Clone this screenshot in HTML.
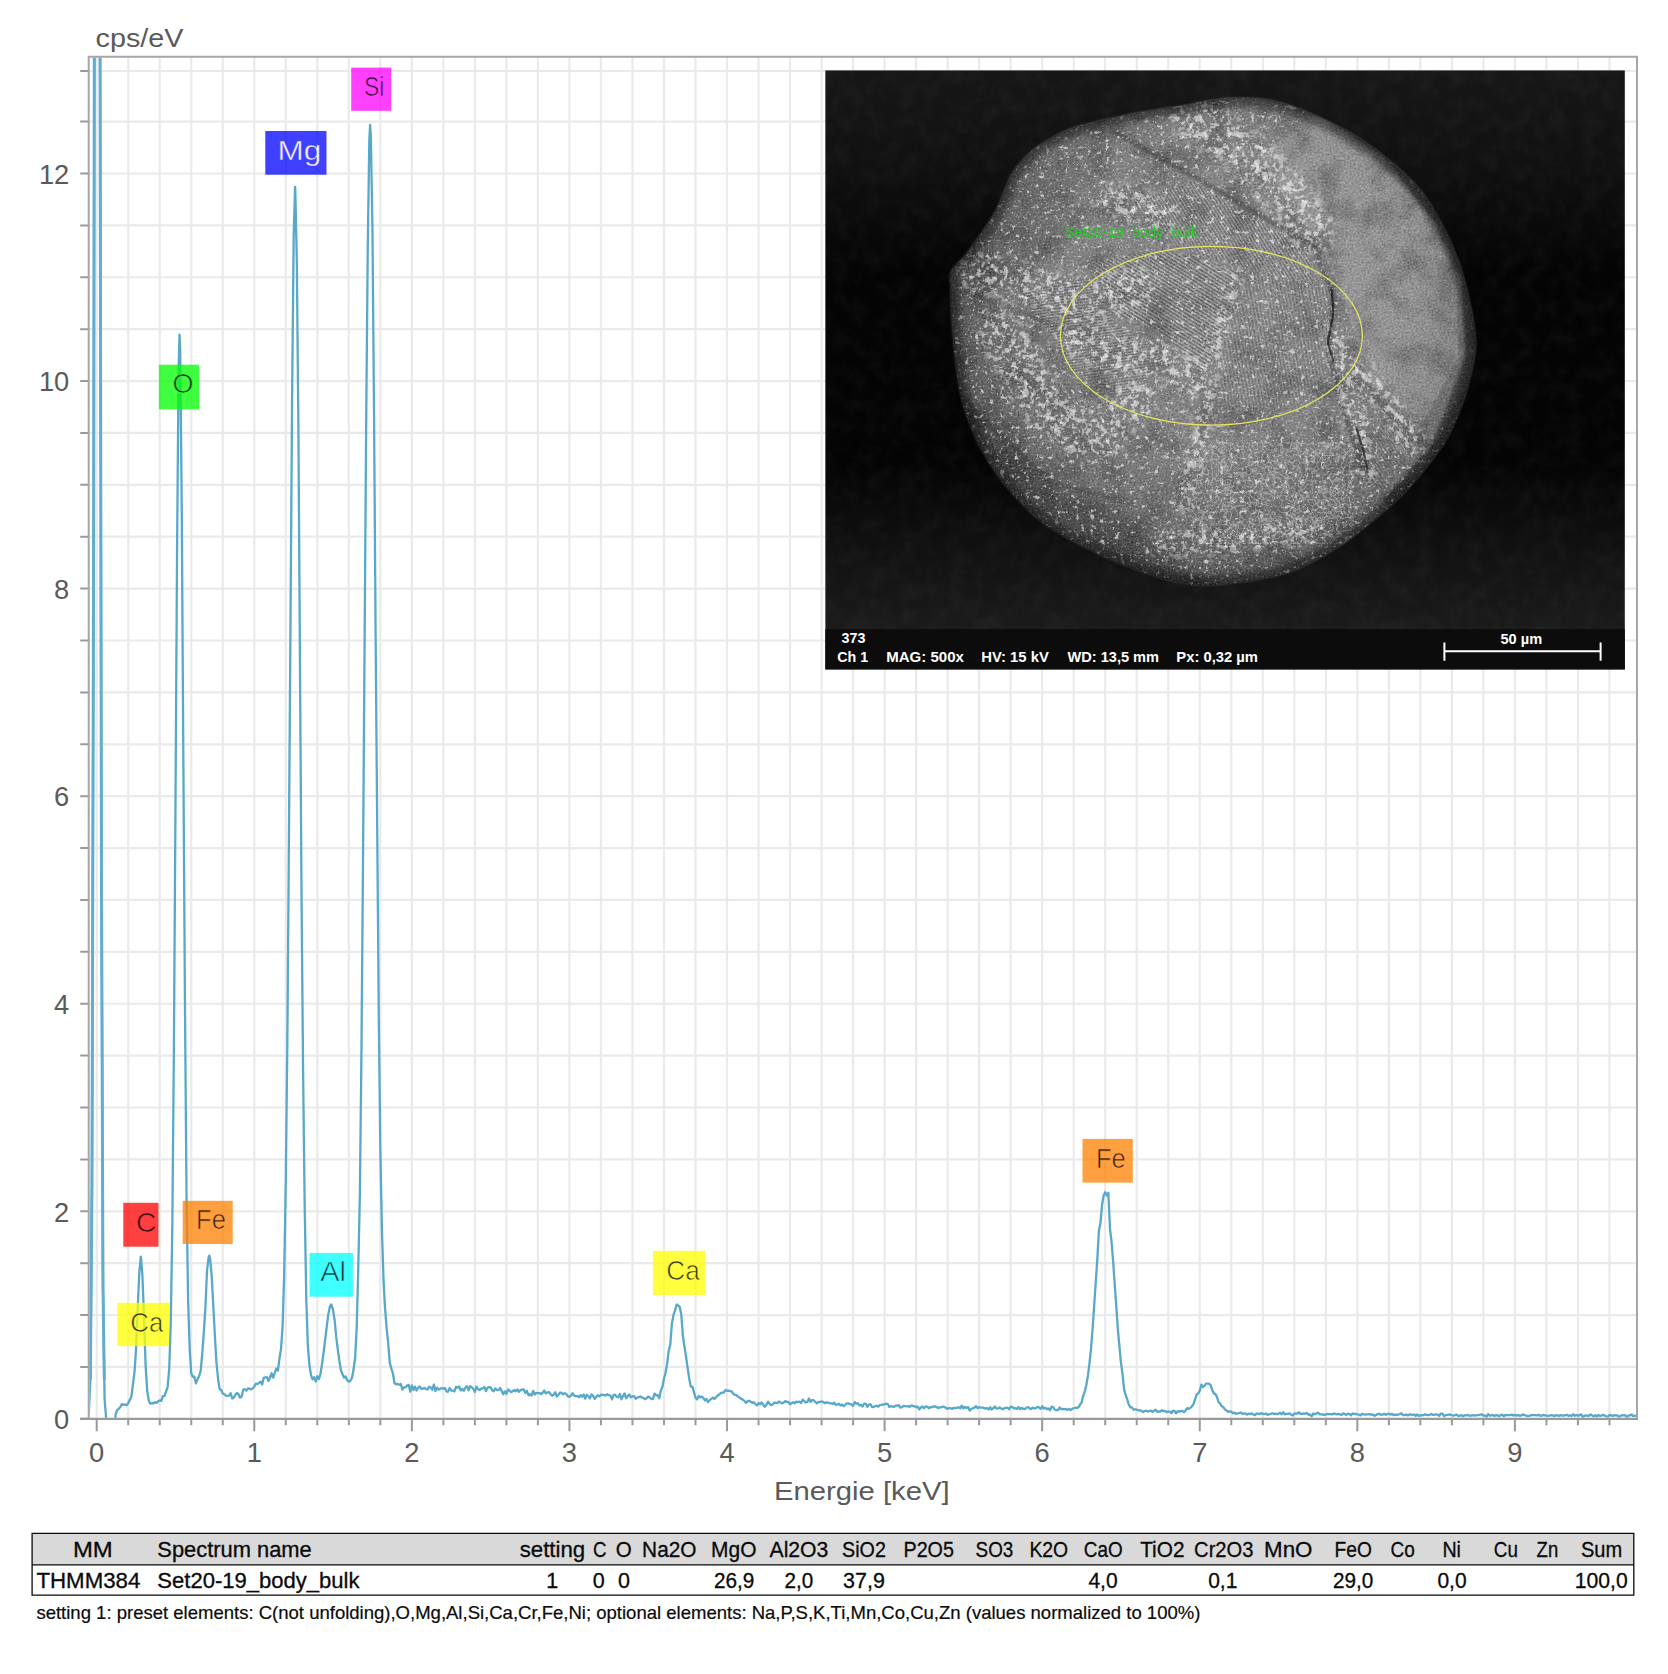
<!DOCTYPE html>
<html lang="de"><head><meta charset="utf-8"><title>EDS Spektrum Set20-19_body_bulk</title>
<style>html,body{margin:0;padding:0;background:#fff;overflow:hidden;}svg{display:block;}text{white-space:pre;}</style></head>
<body><svg width="1668" height="1674" viewBox="0 0 1668 1674" font-family="'Liberation Sans', Arial, sans-serif"><path d="M96.70 56.8V1418.8M128.22 56.8V1418.8M159.73 56.8V1418.8M191.25 56.8V1418.8M222.76 56.8V1418.8M254.28 56.8V1418.8M285.80 56.8V1418.8M317.31 56.8V1418.8M348.83 56.8V1418.8M380.34 56.8V1418.8M411.86 56.8V1418.8M443.38 56.8V1418.8M474.89 56.8V1418.8M506.41 56.8V1418.8M537.92 56.8V1418.8M569.44 56.8V1418.8M600.96 56.8V1418.8M632.47 56.8V1418.8M663.99 56.8V1418.8M695.50 56.8V1418.8M727.02 56.8V1418.8M758.54 56.8V1418.8M790.05 56.8V1418.8M821.57 56.8V1418.8M853.08 56.8V1418.8M884.60 56.8V1418.8M916.12 56.8V1418.8M947.63 56.8V1418.8M979.15 56.8V1418.8M1010.66 56.8V1418.8M1042.18 56.8V1418.8M1073.70 56.8V1418.8M1105.21 56.8V1418.8M1136.73 56.8V1418.8M1168.24 56.8V1418.8M1199.76 56.8V1418.8M1231.28 56.8V1418.8M1262.79 56.8V1418.8M1294.31 56.8V1418.8M1325.82 56.8V1418.8M1357.34 56.8V1418.8M1388.86 56.8V1418.8M1420.37 56.8V1418.8M1451.89 56.8V1418.8M1483.40 56.8V1418.8M1514.92 56.8V1418.8M1546.44 56.8V1418.8M1577.95 56.8V1418.8M1609.47 56.8V1418.8M88.7 1366.96H1637.0M88.7 1315.07H1637.0M88.7 1263.18H1637.0M88.7 1211.29H1637.0M88.7 1159.40H1637.0M88.7 1107.51H1637.0M88.7 1055.62H1637.0M88.7 1003.73H1637.0M88.7 951.84H1637.0M88.7 899.95H1637.0M88.7 848.06H1637.0M88.7 796.17H1637.0M88.7 744.28H1637.0M88.7 692.39H1637.0M88.7 640.50H1637.0M88.7 588.61H1637.0M88.7 536.72H1637.0M88.7 484.83H1637.0M88.7 432.94H1637.0M88.7 381.05H1637.0M88.7 329.16H1637.0M88.7 277.27H1637.0M88.7 225.38H1637.0M88.7 173.49H1637.0M88.7 121.60H1637.0M88.7 71.00H1637.0" stroke="#eaeaea" stroke-width="2.2" fill="none"/>
<path d="M80.2 1418.85H88.7M80.2 1366.96H88.7M80.2 1315.07H88.7M80.2 1263.18H88.7M80.2 1211.29H88.7M80.2 1159.40H88.7M80.2 1107.51H88.7M80.2 1055.62H88.7M80.2 1003.73H88.7M80.2 951.84H88.7M80.2 899.95H88.7M80.2 848.06H88.7M80.2 796.17H88.7M80.2 744.28H88.7M80.2 692.39H88.7M80.2 640.50H88.7M80.2 588.61H88.7M80.2 536.72H88.7M80.2 484.83H88.7M80.2 432.94H88.7M80.2 381.05H88.7M80.2 329.16H88.7M80.2 277.27H88.7M80.2 225.38H88.7M80.2 173.49H88.7M80.2 121.60H88.7M80.2 71.00H88.7M96.70 1418.8v12.5M128.22 1418.8v6.5M159.73 1418.8v6.5M191.25 1418.8v6.5M222.76 1418.8v6.5M254.28 1418.8v12.5M285.80 1418.8v6.5M317.31 1418.8v6.5M348.83 1418.8v6.5M380.34 1418.8v6.5M411.86 1418.8v12.5M443.38 1418.8v6.5M474.89 1418.8v6.5M506.41 1418.8v6.5M537.92 1418.8v6.5M569.44 1418.8v12.5M600.96 1418.8v6.5M632.47 1418.8v6.5M663.99 1418.8v6.5M695.50 1418.8v6.5M727.02 1418.8v12.5M758.54 1418.8v6.5M790.05 1418.8v6.5M821.57 1418.8v6.5M853.08 1418.8v6.5M884.60 1418.8v12.5M916.12 1418.8v6.5M947.63 1418.8v6.5M979.15 1418.8v6.5M1010.66 1418.8v6.5M1042.18 1418.8v12.5M1073.70 1418.8v6.5M1105.21 1418.8v6.5M1136.73 1418.8v6.5M1168.24 1418.8v6.5M1199.76 1418.8v12.5M1231.28 1418.8v6.5M1262.79 1418.8v6.5M1294.31 1418.8v6.5M1325.82 1418.8v6.5M1357.34 1418.8v12.5M1388.86 1418.8v6.5M1420.37 1418.8v6.5M1451.89 1418.8v6.5M1483.40 1418.8v6.5M1514.92 1418.8v12.5M1546.44 1418.8v6.5M1577.95 1418.8v6.5M1609.47 1418.8v6.5" stroke="#9a9a9a" stroke-width="2" fill="none"/>
<path d="M88.7 1418.8V56.8H1637.0V1418.8" stroke="#a6a6a6" stroke-width="2" fill="none"/>
<path d="M80.2 1418.8H1638.0" stroke="#9a9a9a" stroke-width="2.2" fill="none"/>
<clipPath id="pc"><rect x="89.7" y="57.8" width="1547.3" height="1360.0"/></clipPath>
<path d="M87.25 1418.52L88.82 1414.19L90.40 1377.47L91.97 1185.17L93.55 580.40L95.12 -492.74L96.70 -1350.40L98.28 -1130.20L99.85 -72.04L101.43 864.78L103.00 1288.01L104.58 1399.22L106.15 1418.36L107.73 1425.43L109.31 1460.36L110.88 1460.36L112.46 1460.47L114.03 1433.18L115.61 1414.59L117.19 1409.98L118.76 1408.87L120.34 1406.87L121.91 1404.11L123.49 1405.03L125.06 1404.45L126.64 1405.20L128.22 1403.33L129.79 1399.94L131.37 1396.82L132.94 1384.31L134.52 1371.77L134.99 1365.81L136.10 1347.57L137.67 1309.50L139.25 1273.23L140.82 1256.66L140.90 1256.75L142.40 1275.26L143.97 1316.32L145.55 1364.07L147.13 1390.08L148.70 1400.41L150.28 1403.67L151.85 1403.18L153.43 1403.27L155.00 1402.09L156.58 1403.00L158.16 1401.23L159.73 1400.46L161.31 1400.77L162.88 1396.14L164.46 1395.79L166.04 1391.50L167.61 1387.23L169.19 1369.36L170.76 1323.22L172.34 1224.72L173.91 1046.92L175.49 803.68L177.07 549.12L178.64 366.09L179.56 334.56L179.56 334.56L180.22 350.48L181.79 514.28L183.37 761.95L184.94 1001.05L186.52 1196.83L188.10 1299.12L189.67 1349.20L191.25 1373.21L192.82 1376.80L194.40 1376.66L195.98 1383.43L197.55 1379.11L199.13 1376.20L200.70 1370.73L202.28 1353.40L203.85 1331.73L205.43 1307.04L207.01 1271.03L208.58 1257.28L209.29 1255.60L210.16 1259.05L211.73 1276.53L213.31 1306.19L214.89 1335.85L216.46 1362.76L218.04 1378.51L219.61 1389.16L221.19 1389.89L222.76 1393.59L224.34 1394.09L225.92 1395.83L227.49 1395.79L229.07 1395.53L230.64 1393.23L232.22 1398.49L233.79 1397.54L235.37 1394.93L236.95 1393.03L238.52 1394.21L240.10 1397.68L241.67 1396.50L243.25 1389.68L244.83 1389.22L246.40 1390.68L247.98 1388.43L249.55 1388.73L251.13 1389.38L252.70 1388.34L254.28 1386.80L255.86 1383.55L257.43 1384.02L259.01 1382.97L260.58 1381.69L262.16 1384.41L263.73 1377.86L265.31 1377.40L266.89 1377.14L268.46 1381.01L270.04 1377.32L271.61 1373.28L273.19 1377.61L274.77 1372.98L276.34 1368.52L277.92 1370.63L279.49 1358.40L281.07 1348.46L282.64 1325.41L284.22 1273.09L285.80 1180.11L287.37 1038.72L288.95 834.14L290.52 618.54L292.10 396.96L293.68 236.28L295.09 186.98L295.25 187.71L296.83 262.20L298.40 427.65L299.98 665.28L301.55 898.82L303.13 1075.40L304.71 1207.92L306.28 1298.66L307.86 1346.21L309.43 1365.07L311.01 1375.07L312.58 1379.33L314.16 1377.09L315.74 1381.66L317.31 1376.30L318.89 1379.04L320.46 1373.96L322.04 1363.90L323.62 1352.27L325.19 1339.56L326.77 1326.45L328.34 1314.12L329.92 1306.28L331.02 1304.48L331.49 1304.84L333.07 1310.17L334.65 1320.41L336.22 1336.89L337.80 1349.71L339.37 1360.73L340.95 1370.43L342.52 1374.22L344.10 1377.66L345.68 1376.44L347.25 1380.26L348.83 1381.66L350.40 1380.79L351.98 1377.73L353.56 1369.55L355.13 1358.09L356.71 1326.96L358.28 1267.12L359.86 1195.19L361.43 1053.36L363.01 862.01L364.59 644.18L366.16 425.38L367.74 249.49L369.31 139.77L370.13 125.02L370.89 137.34L372.47 230.98L374.04 413.46L375.62 636.08L377.19 824.54L378.77 1016.18L380.34 1149.42L381.92 1230.11L383.50 1279.08L384.60 1300.93L385.07 1308.28L386.65 1328.42L388.22 1343.43L389.80 1363.16L391.37 1368.62L392.95 1373.69L394.53 1383.29L396.10 1384.25L397.68 1383.94L399.25 1384.80L400.83 1383.96L402.41 1389.59L403.98 1387.28L405.56 1387.27L407.13 1385.60L408.71 1384.90L410.28 1391.65L411.86 1385.40L413.44 1389.98L415.01 1386.58L416.59 1390.52L418.16 1387.93L419.74 1386.46L421.31 1388.96L422.89 1388.63L424.47 1387.86L426.04 1389.03L427.62 1389.39L429.19 1386.68L430.77 1387.47L432.35 1389.69L433.92 1384.61L435.50 1391.07L437.07 1387.62L438.65 1389.57L440.22 1388.89L441.80 1387.92L443.38 1388.71L444.95 1388.00L446.53 1391.60L448.10 1391.55L449.68 1387.99L451.26 1390.61L452.83 1390.70L454.41 1391.42L455.98 1386.83L457.56 1387.69L459.13 1386.46L460.71 1390.47L462.29 1388.88L463.86 1390.78L465.44 1387.57L467.01 1386.18L468.59 1390.31L470.16 1386.19L471.74 1387.13L473.32 1389.07L474.89 1392.06L476.47 1386.50L478.04 1389.11L479.62 1390.06L481.20 1388.49L482.77 1388.58L484.35 1386.88L485.92 1391.16L487.50 1387.69L489.07 1387.22L490.65 1387.39L492.23 1390.18L493.80 1391.21L495.38 1388.42L496.95 1390.00L498.53 1390.09L500.10 1388.08L501.68 1390.93L503.26 1394.34L504.83 1391.34L506.41 1393.81L507.98 1389.59L509.56 1390.51L511.14 1392.11L512.71 1391.24L514.29 1389.99L515.86 1391.31L517.44 1389.42L519.01 1391.74L520.59 1390.09L522.17 1389.48L523.74 1389.40L525.32 1393.11L526.89 1390.77L528.47 1395.21L530.05 1394.07L531.62 1395.55L533.20 1390.89L534.77 1394.60L536.35 1392.79L537.92 1393.18L539.50 1393.03L541.08 1394.00L542.65 1392.83L544.23 1390.52L545.80 1393.33L547.38 1392.68L548.95 1392.06L550.53 1394.01L552.11 1395.71L553.68 1394.70L555.26 1392.27L556.83 1396.49L558.41 1394.95L559.99 1392.58L561.56 1392.97L563.14 1394.23L564.71 1393.09L566.29 1394.12L567.86 1396.22L569.44 1396.86L571.02 1395.53L572.59 1393.24L574.17 1395.55L575.74 1396.12L577.32 1395.98L578.89 1397.18L580.47 1395.13L582.05 1396.78L583.62 1394.55L585.20 1398.67L586.77 1394.73L588.35 1396.24L589.93 1398.23L591.50 1394.34L593.08 1395.89L594.65 1398.84L596.23 1396.90L597.80 1395.25L599.38 1396.42L600.96 1394.66L602.53 1394.79L604.11 1394.98L605.68 1395.55L607.26 1394.16L608.84 1395.21L610.41 1395.59L611.99 1399.34L613.56 1395.10L615.14 1394.57L616.71 1396.97L618.29 1397.29L619.87 1393.90L621.44 1399.29L623.02 1396.16L624.59 1393.44L626.17 1398.31L627.74 1396.07L629.32 1394.44L630.90 1397.37L632.47 1396.48L634.05 1396.07L635.62 1398.70L637.20 1397.62L638.78 1397.15L640.35 1396.45L641.93 1397.70L643.50 1397.97L645.08 1399.16L646.65 1398.27L648.23 1396.55L649.81 1397.67L651.38 1398.98L652.96 1398.87L654.53 1393.66L656.11 1395.30L657.68 1395.04L659.26 1398.24L660.84 1390.63L662.41 1386.68L663.99 1378.46L665.56 1372.77L667.14 1363.80L668.72 1350.63L670.29 1344.60L671.87 1323.86L673.44 1315.10L675.02 1310.60L676.59 1304.68L677.07 1304.48L678.17 1305.67L679.75 1306.95L681.32 1314.87L682.90 1336.04L684.47 1346.54L686.05 1356.56L687.63 1368.03L689.20 1378.50L690.78 1386.65L692.35 1386.68L693.93 1392.15L695.50 1397.80L697.08 1399.37L698.66 1395.94L700.23 1397.40L701.81 1396.52L703.38 1398.07L704.96 1400.45L706.53 1398.94L708.11 1402.17L709.69 1400.13L711.26 1398.95L712.84 1397.75L714.41 1398.93L715.99 1397.35L717.57 1395.61L719.14 1394.67L720.72 1393.15L722.29 1392.69L723.87 1392.53L725.44 1389.98L727.02 1390.79L728.60 1390.70L728.60 1390.70L730.17 1391.00L731.75 1391.61L733.32 1393.97L734.90 1394.84L736.47 1395.21L738.05 1396.70L739.63 1397.58L741.20 1398.92L742.78 1399.64L744.35 1400.83L745.93 1402.88L747.51 1401.20L749.08 1400.77L750.66 1401.82L752.23 1402.81L753.81 1402.20L755.38 1404.07L756.96 1405.32L758.54 1403.07L760.11 1404.37L761.69 1402.47L763.26 1404.77L764.84 1406.72L766.42 1404.81L767.99 1401.64L769.57 1403.95L771.14 1405.10L772.72 1404.34L774.29 1402.77L775.87 1402.76L777.45 1403.11L779.02 1401.50L780.60 1402.40L782.17 1403.24L783.75 1402.46L785.32 1401.15L786.90 1401.94L788.48 1401.84L790.05 1404.36L791.63 1403.19L793.20 1402.09L794.78 1403.31L796.36 1401.61L797.93 1402.15L799.51 1401.73L801.08 1403.07L802.66 1399.65L804.23 1401.02L805.81 1402.55L807.39 1401.89L808.96 1398.45L810.54 1401.90L812.11 1400.10L813.69 1400.23L815.26 1401.72L816.84 1403.45L818.42 1402.00L819.99 1402.04L821.57 1401.35L823.14 1402.03L824.72 1403.21L826.30 1402.30L827.87 1402.73L829.45 1403.18L831.02 1403.42L832.60 1403.83L834.17 1402.77L835.75 1404.90L837.33 1404.44L838.90 1403.74L840.48 1405.53L842.05 1404.37L843.63 1406.28L845.21 1404.76L846.78 1403.34L848.36 1403.39L849.93 1404.17L851.51 1404.44L853.08 1405.87L854.66 1402.13L856.24 1403.72L857.81 1403.10L859.39 1405.45L860.96 1404.69L862.54 1406.63L864.11 1403.68L865.69 1403.56L867.27 1406.87L868.84 1404.80L870.42 1404.07L871.99 1406.86L873.57 1406.98L875.15 1406.16L876.72 1405.72L878.30 1406.65L879.87 1405.07L881.45 1404.88L883.02 1404.49L884.60 1404.47L886.18 1403.63L887.75 1404.06L889.33 1406.89L890.90 1406.04L892.48 1406.71L894.05 1406.78L895.63 1405.72L897.21 1405.67L898.78 1405.19L900.36 1407.54L901.93 1407.21L903.51 1405.92L905.09 1406.17L906.66 1406.35L908.24 1406.14L909.81 1406.95L911.39 1405.42L912.96 1405.85L914.54 1406.39L916.12 1407.07L917.69 1406.59L919.27 1409.39L920.84 1407.57L922.42 1406.53L924.00 1408.23L925.57 1406.47L927.15 1406.58L928.72 1408.26L930.30 1407.11L931.87 1407.24L933.45 1406.48L935.03 1406.37L936.60 1407.11L938.18 1408.02L939.75 1407.34L941.33 1407.31L942.90 1406.53L944.48 1407.05L946.06 1408.16L947.63 1408.86L949.21 1407.90L950.78 1408.34L952.36 1408.77L953.94 1407.81L955.51 1408.24L957.09 1407.69L958.66 1407.33L960.24 1408.33L961.81 1405.63L963.39 1408.35L964.97 1406.98L966.54 1408.01L968.12 1407.08L969.69 1410.61L971.27 1409.05L972.84 1408.12L974.42 1407.82L976.00 1406.17L977.57 1408.15L979.15 1407.21L980.72 1407.72L982.30 1407.54L983.88 1407.97L985.45 1408.63L987.03 1407.97L988.60 1409.53L990.18 1407.31L991.75 1409.47L993.33 1408.23L994.91 1406.38L996.48 1408.69L998.06 1408.45L999.63 1407.33L1001.21 1408.45L1002.79 1409.27L1004.36 1408.22L1005.94 1407.90L1007.51 1407.77L1009.09 1409.23L1010.66 1406.75L1012.24 1406.83L1013.82 1408.45L1015.39 1408.21L1016.97 1408.89L1018.54 1407.08L1020.12 1409.17L1021.69 1407.81L1023.27 1408.94L1024.85 1409.16L1026.42 1407.76L1028.00 1407.16L1029.57 1408.48L1031.15 1409.14L1032.73 1407.67L1034.30 1408.52L1035.88 1408.17L1037.45 1406.97L1039.03 1407.36L1040.60 1408.98L1042.18 1406.22L1043.76 1408.47L1045.33 1407.70L1046.91 1409.11L1048.48 1408.52L1050.06 1410.19L1051.63 1406.71L1053.21 1407.16L1054.79 1409.74L1056.36 1410.06L1057.94 1410.22L1059.51 1407.53L1061.09 1409.16L1062.67 1408.82L1064.24 1409.10L1065.82 1408.95L1067.39 1409.91L1068.97 1408.84L1070.54 1410.23L1072.12 1408.82L1073.70 1408.26L1075.27 1407.74L1076.85 1407.81L1078.42 1407.48L1080.00 1404.62L1081.58 1402.78L1083.15 1396.12L1084.73 1391.53L1086.30 1385.28L1087.88 1375.88L1089.45 1363.59L1091.03 1348.52L1092.61 1328.42L1094.18 1305.41L1095.76 1281.99L1097.33 1258.75L1098.91 1230.55L1100.48 1223.06L1102.06 1205.00L1103.64 1195.54L1105.21 1192.30L1105.21 1192.30L1106.79 1195.63L1108.36 1192.75L1109.94 1228.32L1111.52 1241.63L1113.09 1260.72L1114.67 1283.79L1116.24 1305.64L1117.82 1328.77L1119.39 1345.90L1120.97 1362.70L1122.55 1374.32L1124.12 1389.41L1125.70 1395.19L1127.27 1399.49L1128.85 1404.70L1130.42 1407.31L1132.00 1407.33L1133.58 1409.73L1135.15 1409.25L1136.73 1409.61L1138.30 1410.28L1139.88 1410.28L1141.46 1410.92L1143.03 1412.12L1144.61 1411.00L1146.18 1410.64L1147.76 1411.52L1149.33 1411.20L1150.91 1410.53L1152.49 1411.95L1154.06 1410.71L1155.64 1409.73L1157.21 1411.80L1158.79 1411.26L1160.37 1411.55L1161.94 1410.19L1163.52 1411.25L1165.09 1410.82L1166.67 1412.17L1168.24 1411.65L1169.82 1411.69L1171.40 1413.17L1172.97 1410.58L1174.55 1411.04L1176.12 1413.20L1177.70 1411.14L1179.27 1411.78L1180.85 1411.16L1182.43 1410.98L1184.00 1412.19L1185.58 1410.49L1187.15 1408.07L1188.73 1408.89L1190.31 1407.90L1191.88 1406.47L1193.46 1404.14L1195.03 1399.56L1196.61 1394.69L1198.18 1393.42L1199.76 1390.70L1201.34 1384.60L1202.91 1387.01L1204.49 1385.69L1206.06 1383.65L1206.85 1383.56L1207.64 1383.70L1209.21 1383.67L1210.79 1385.36L1212.37 1390.38L1213.94 1393.36L1215.52 1394.12L1217.09 1397.33L1218.67 1402.36L1220.25 1403.62L1221.82 1406.35L1223.40 1407.26L1224.97 1409.44L1226.55 1410.64L1228.12 1411.78L1229.70 1411.33L1231.28 1411.59L1232.85 1413.25L1234.43 1412.60L1236.00 1413.91L1237.58 1413.42L1239.16 1413.00L1240.73 1412.49L1242.31 1413.85L1243.88 1413.65L1245.46 1413.48L1247.03 1414.67L1248.61 1413.63L1250.19 1414.12L1251.76 1413.40L1253.34 1414.46L1254.91 1415.06L1256.49 1413.67L1258.06 1413.53L1259.64 1414.10L1261.22 1413.12L1262.79 1413.93L1264.37 1414.17L1265.94 1413.44L1267.52 1414.86L1269.10 1414.25L1270.67 1413.81L1272.25 1413.23L1273.82 1413.93L1275.40 1413.62L1276.97 1414.29L1278.55 1413.65L1280.13 1412.73L1281.70 1414.35L1283.28 1412.28L1284.85 1414.34L1286.43 1413.90L1288.00 1413.81L1289.58 1413.24L1291.16 1414.78L1292.73 1415.38L1294.31 1413.56L1295.88 1413.44L1297.46 1413.57L1299.04 1412.23L1300.61 1413.88L1302.19 1413.86L1303.76 1413.41L1305.34 1413.80L1306.91 1412.95L1308.49 1414.90L1310.07 1414.33L1311.64 1416.39L1313.22 1413.56L1314.79 1414.36L1316.37 1413.51L1317.95 1412.71L1319.52 1414.15L1321.10 1414.33L1322.67 1414.50L1324.25 1414.74L1325.82 1414.61L1327.40 1413.79L1328.98 1414.19L1330.55 1414.19L1332.13 1414.35L1333.70 1413.65L1335.28 1413.94L1336.85 1414.37L1338.43 1413.85L1340.01 1414.40L1341.58 1415.06L1343.16 1413.37L1344.73 1414.03L1346.31 1414.96L1347.89 1413.66L1349.46 1414.14L1351.04 1415.39L1352.61 1413.35L1354.19 1414.18L1355.76 1413.84L1357.34 1414.30L1358.92 1414.53L1360.49 1415.44L1362.07 1413.83L1363.64 1414.45L1365.22 1414.66L1366.79 1414.27L1368.37 1414.45L1369.95 1414.08L1371.52 1414.76L1373.10 1414.56L1374.67 1415.90L1376.25 1414.83L1377.83 1414.14L1379.40 1413.74L1380.98 1414.82L1382.55 1414.68L1384.13 1413.62L1385.70 1414.83L1387.28 1414.18L1388.86 1413.60L1390.43 1414.64L1392.01 1413.90L1393.58 1415.13L1395.16 1414.56L1396.74 1414.75L1398.31 1414.65L1399.89 1414.03L1401.46 1413.26L1403.04 1415.16L1404.61 1415.12L1406.19 1414.47L1407.77 1415.43L1409.34 1414.49L1410.92 1414.46L1412.49 1414.99L1414.07 1414.50L1415.64 1415.79L1417.22 1414.39L1418.80 1415.81L1420.37 1415.30L1421.95 1415.23L1423.52 1415.14L1425.10 1414.39L1426.68 1414.87L1428.25 1415.17L1429.83 1414.62L1431.40 1414.00L1432.98 1414.96L1434.55 1414.76L1436.13 1414.24L1437.71 1414.84L1439.28 1415.78L1440.86 1413.53L1442.43 1413.72L1444.01 1416.23L1445.58 1415.08L1447.16 1414.82L1448.74 1414.51L1450.31 1414.69L1451.89 1415.26L1453.46 1415.74L1455.04 1415.06L1456.62 1414.53L1458.19 1415.79L1459.77 1415.76L1461.34 1415.18L1462.92 1416.32L1464.49 1415.34L1466.07 1415.46L1467.65 1414.95L1469.22 1415.63L1470.80 1415.74L1472.37 1415.46L1473.95 1415.26L1475.53 1415.63L1477.10 1415.24L1478.68 1414.81L1480.25 1414.57L1481.83 1414.27L1483.40 1415.72L1484.98 1415.51L1486.56 1416.71L1488.13 1414.18L1489.71 1415.70L1491.28 1415.31L1492.86 1414.99L1494.43 1416.08L1496.01 1415.04L1497.59 1415.32L1499.16 1416.36L1500.74 1415.15L1502.31 1414.64L1503.89 1416.40L1505.47 1414.87L1507.04 1415.22L1508.62 1415.07L1510.19 1415.09L1511.77 1414.60L1513.34 1415.48L1514.92 1414.86L1516.50 1415.60L1518.07 1414.95L1519.65 1415.84L1521.22 1415.44L1522.80 1414.40L1524.37 1415.13L1525.95 1415.48L1527.53 1416.05L1529.10 1415.85L1530.68 1415.30L1532.25 1414.88L1533.83 1415.18L1535.41 1415.12L1536.98 1415.45L1538.56 1414.67L1540.13 1415.66L1541.71 1415.75L1543.28 1414.94L1544.86 1415.41L1546.44 1415.61L1548.01 1415.78L1549.59 1415.61L1551.16 1415.12L1552.74 1415.27L1554.32 1416.16L1555.89 1415.24L1557.47 1415.39L1559.04 1416.05L1560.62 1415.06L1562.19 1415.66L1563.77 1415.69L1565.35 1415.07L1566.92 1414.78L1568.50 1415.90L1570.07 1415.28L1571.65 1416.02L1573.22 1414.25L1574.80 1415.81L1576.38 1414.88L1577.95 1415.91L1579.53 1415.10L1581.10 1414.33L1582.68 1416.97L1584.26 1415.81L1585.83 1415.30L1587.41 1415.63L1588.98 1415.95L1590.56 1414.40L1592.13 1415.55L1593.71 1416.50L1595.29 1415.13L1596.86 1416.55L1598.44 1414.98L1600.01 1415.93L1601.59 1415.54L1603.16 1414.93L1604.74 1415.57L1606.32 1416.40L1607.89 1416.57L1609.47 1415.00L1611.04 1415.24L1612.62 1416.10L1614.20 1415.19L1615.77 1415.39L1617.35 1415.32L1618.92 1416.90L1620.50 1415.84L1622.07 1415.19L1623.65 1415.29L1625.23 1415.21L1626.80 1417.03L1628.38 1415.61L1629.95 1415.44L1631.53 1414.33L1633.11 1416.23L1634.68 1415.90L1636.26 1415.71" clip-path="url(#pc)" stroke="#58a8ca" stroke-width="2.3" fill="none" stroke-linejoin="round"/>
<clipPath id="pz"><rect x="89.7" y="57.8" width="30" height="1322"/></clipPath>
<path d="M87.25 1418.52L88.82 1414.19L90.40 1377.47L91.97 1185.17L93.55 580.40L95.12 -492.74L96.70 -1350.40L98.28 -1130.20L99.85 -72.04L101.43 864.78L103.00 1288.01L104.58 1399.22L106.15 1418.36L107.73 1425.43" clip-path="url(#pz)" stroke="#62adcf" stroke-width="3.0" fill="none" stroke-linejoin="round"/>
<text x="69.3" y="1429.0" font-size="27.3" text-anchor="end" fill="#5a5a5a">0</text>
<text x="69.3" y="1221.5" font-size="27.3" text-anchor="end" fill="#5a5a5a">2</text>
<text x="69.3" y="1013.9" font-size="27.3" text-anchor="end" fill="#5a5a5a">4</text>
<text x="69.3" y="806.4" font-size="27.3" text-anchor="end" fill="#5a5a5a">6</text>
<text x="69.3" y="598.8" font-size="27.3" text-anchor="end" fill="#5a5a5a">8</text>
<text x="69.3" y="391.2" font-size="27.3" text-anchor="end" fill="#5a5a5a">10</text>
<text x="69.3" y="183.7" font-size="27.3" text-anchor="end" fill="#5a5a5a">12</text>
<text x="96.7" y="1461.5" font-size="27.3" text-anchor="middle" fill="#5a5a5a">0</text>
<text x="254.3" y="1461.5" font-size="27.3" text-anchor="middle" fill="#5a5a5a">1</text>
<text x="411.9" y="1461.5" font-size="27.3" text-anchor="middle" fill="#5a5a5a">2</text>
<text x="569.4" y="1461.5" font-size="27.3" text-anchor="middle" fill="#5a5a5a">3</text>
<text x="727.0" y="1461.5" font-size="27.3" text-anchor="middle" fill="#5a5a5a">4</text>
<text x="884.6" y="1461.5" font-size="27.3" text-anchor="middle" fill="#5a5a5a">5</text>
<text x="1042.2" y="1461.5" font-size="27.3" text-anchor="middle" fill="#5a5a5a">6</text>
<text x="1199.8" y="1461.5" font-size="27.3" text-anchor="middle" fill="#5a5a5a">7</text>
<text x="1357.3" y="1461.5" font-size="27.3" text-anchor="middle" fill="#5a5a5a">8</text>
<text x="1514.9" y="1461.5" font-size="27.3" text-anchor="middle" fill="#5a5a5a">9</text>
<text x="95.5" y="47.3" font-size="26" text-anchor="start" fill="#5a5a5a" textLength="88.0" lengthAdjust="spacingAndGlyphs">cps/eV</text>
<text x="774.0" y="1499.8" font-size="26" text-anchor="start" fill="#5a5a5a" textLength="175.6" lengthAdjust="spacingAndGlyphs">Energie [keV]</text>
<rect x="351.2" y="67.6" width="40.0" height="43.2" fill="#ff00ff" fill-opacity="0.75"/>
<text x="364.0" y="95.5" font-size="27.8" fill="#000" fill-opacity="0.8" stroke="#ff3fff" stroke-width="0.65" textLength="20.3" lengthAdjust="spacingAndGlyphs">Si</text>
<rect x="265.3" y="131.0" width="61.2" height="43.7" fill="#0000ff" fill-opacity="0.75"/>
<text x="277.5" y="159.8" font-size="27.8" fill="#fff" fill-opacity="0.95" stroke="#3f3fff" stroke-width="0.4" textLength="43.8" lengthAdjust="spacingAndGlyphs">Mg</text>
<rect x="158.9" y="364.7" width="40.2" height="44.6" fill="#00ff00" fill-opacity="0.75"/>
<text x="172.5" y="393.2" font-size="27.8" fill="#000" fill-opacity="0.8" stroke="#3fff3f" stroke-width="0.65" textLength="21.0" lengthAdjust="spacingAndGlyphs">O</text>
<rect x="123.3" y="1202.8" width="35.2" height="43.9" fill="#ff0000" fill-opacity="0.75"/>
<text x="136.0" y="1231.7" font-size="27.8" fill="#000" fill-opacity="0.8" stroke="#ff3f3f" stroke-width="0.65" textLength="20.4" lengthAdjust="spacingAndGlyphs">C</text>
<rect x="182.7" y="1200.8" width="50.0" height="43.2" fill="#ff8000" fill-opacity="0.75"/>
<text x="196.1" y="1229.4" font-size="27.8" fill="#000" fill-opacity="0.8" stroke="#ff9f3f" stroke-width="0.65" textLength="29.8" lengthAdjust="spacingAndGlyphs">Fe</text>
<rect x="117.4" y="1302.8" width="51.7" height="43.4" fill="#ffff00" fill-opacity="0.75"/>
<text x="130.3" y="1331.9" font-size="27.8" fill="#000" fill-opacity="0.8" stroke="#ffff3f" stroke-width="0.65" textLength="33.0" lengthAdjust="spacingAndGlyphs">Ca</text>
<rect x="309.5" y="1252.9" width="43.4" height="43.8" fill="#00ffff" fill-opacity="0.75"/>
<text x="320.2" y="1281.4" font-size="27.8" fill="#000" fill-opacity="0.8" stroke="#3fffff" stroke-width="0.65" textLength="25.7" lengthAdjust="spacingAndGlyphs">Al</text>
<rect x="652.9" y="1250.8" width="52.4" height="44.1" fill="#ffff00" fill-opacity="0.75"/>
<text x="666.3" y="1279.9" font-size="27.8" fill="#000" fill-opacity="0.8" stroke="#ffff3f" stroke-width="0.65" textLength="33.5" lengthAdjust="spacingAndGlyphs">Ca</text>
<rect x="1082.5" y="1138.9" width="50.3" height="43.7" fill="#ff8000" fill-opacity="0.75"/>
<text x="1095.9" y="1167.7" font-size="27.8" fill="#000" fill-opacity="0.8" stroke="#ff9f3f" stroke-width="0.65" textLength="29.8" lengthAdjust="spacingAndGlyphs">Fe</text>
<defs>
<clipPath id="imgc"><rect x="825.2" y="70.2" width="799.7" height="599.4"/></clipPath>
<clipPath id="sphc"><path d="M950.7 286.8C950.8 279.9 949.1 276.0 951.6 270.6C954.1 265.2 960.6 261.4 966.0 254.5C971.4 247.6 978.9 236.8 984.0 229.3C989.1 221.8 992.9 216.4 996.5 209.5C1000.1 202.6 1002.5 194.5 1005.5 187.9C1008.5 181.3 1010.3 175.9 1014.5 169.9C1018.7 163.9 1024.4 157.3 1030.7 151.9C1037.0 146.5 1045.1 141.6 1052.3 137.6C1059.5 133.6 1064.3 130.8 1073.9 127.7C1083.5 124.6 1097.9 121.4 1109.9 118.7C1121.9 116.0 1133.8 113.6 1145.8 111.5C1157.8 109.4 1171.3 107.9 1181.8 106.1C1192.3 104.3 1199.8 102.0 1208.8 100.7C1217.8 99.4 1225.5 98.0 1236.0 98.0C1246.5 98.0 1260.0 98.3 1272.0 100.7C1284.0 103.1 1296.0 107.6 1308.0 112.4C1320.0 117.2 1333.4 123.8 1343.9 129.5C1354.4 135.2 1361.9 140.1 1370.9 146.5C1379.9 152.9 1389.4 160.6 1397.8 168.1C1406.2 175.6 1414.3 182.8 1421.2 191.5C1428.1 200.2 1434.1 211.3 1439.2 220.3C1444.3 229.3 1448.2 237.4 1451.8 245.5C1455.4 253.6 1458.1 260.4 1460.8 268.8C1463.5 277.2 1465.9 286.8 1468.0 295.8C1470.1 304.8 1472.2 313.8 1473.4 322.8C1474.6 331.8 1476.1 339.4 1475.2 349.8C1474.3 360.2 1470.7 374.6 1468.0 385.0C1465.3 395.4 1462.6 402.9 1459.0 411.9C1455.4 420.9 1451.2 430.5 1446.4 438.9C1441.6 447.3 1435.9 454.8 1430.2 462.3C1424.5 469.8 1418.8 476.7 1412.2 483.9C1405.6 491.1 1398.1 498.6 1390.6 505.5C1383.1 512.4 1375.1 519.0 1367.3 525.3C1359.5 531.6 1352.3 537.5 1343.9 543.2C1335.5 548.9 1325.9 554.6 1316.9 559.4C1307.9 564.2 1299.5 568.7 1289.9 572.0C1280.3 575.3 1269.9 577.2 1259.4 579.2C1248.9 581.2 1236.9 582.7 1227.0 583.7C1217.1 584.8 1208.8 586.0 1199.8 585.5C1190.8 585.0 1181.8 583.1 1172.8 581.0C1163.8 578.9 1154.8 575.9 1145.8 572.9C1136.8 569.9 1127.8 566.8 1118.8 563.0C1109.8 559.2 1100.6 554.6 1091.9 550.4C1083.2 546.2 1075.1 542.6 1066.7 537.8C1058.3 533.0 1048.7 527.1 1041.5 521.7C1034.3 516.3 1029.5 511.5 1023.5 505.5C1017.5 499.5 1010.9 492.3 1005.5 485.7C1000.1 479.1 995.7 472.8 991.2 465.9C986.7 459.0 982.5 452.1 978.6 444.3C974.7 436.5 970.8 427.5 967.8 419.1C964.8 410.7 962.5 402.7 960.6 394.0C958.7 385.3 957.3 376.0 956.1 367.0C954.9 358.0 954.2 349.2 953.4 340.0C952.6 330.8 951.7 320.9 951.2 312.0C950.8 303.1 950.6 293.7 950.7 286.8Z"/></clipPath>
<linearGradient id="bgg" gradientUnits="userSpaceOnUse" x1="0" y1="70" x2="0" y2="630"><stop offset="0" stop-color="#171717"/><stop offset="0.18" stop-color="#101010"/><stop offset="0.36" stop-color="#040404"/><stop offset="0.7" stop-color="#040404"/><stop offset="0.83" stop-color="#0f0f0f"/><stop offset="1" stop-color="#1b1b1b"/></linearGradient>
<radialGradient id="sphg" gradientUnits="userSpaceOnUse" cx="1225" cy="310" r="285" fx="1250" fy="270"><stop offset="0" stop-color="#888888"/><stop offset="0.6" stop-color="#7e7e7e"/><stop offset="0.84" stop-color="#6a6a6a"/><stop offset="0.95" stop-color="#505050"/><stop offset="1" stop-color="#3a3a3a"/></radialGradient>
<linearGradient id="flr" gradientUnits="userSpaceOnUse" x1="0" y1="500" x2="0" y2="630"><stop offset="0" stop-color="#191919" stop-opacity="0"/><stop offset="1" stop-color="#191919" stop-opacity="0.95"/></linearGradient>
<pattern id="st1" patternUnits="userSpaceOnUse" width="3.2" height="3.2" patternTransform="rotate(32)"><rect width="3.2" height="1.3" fill="#fff"/><rect y="1.9" width="3.2" height="0.9" fill="#000"/></pattern>
<pattern id="st2" patternUnits="userSpaceOnUse" width="3" height="3" patternTransform="rotate(58)"><rect width="3" height="1.2" fill="#fff"/><rect y="1.8" width="3" height="0.9" fill="#000"/></pattern>
<pattern id="st3" patternUnits="userSpaceOnUse" width="2.8" height="2.8" patternTransform="rotate(-8)"><rect width="2.8" height="1.1" fill="#fff"/><rect y="1.6" width="2.8" height="0.9" fill="#000"/></pattern>
<pattern id="st4" patternUnits="userSpaceOnUse" width="3.4" height="3.4" patternTransform="rotate(80)"><rect width="3.4" height="1.3" fill="#fff"/><rect y="2" width="3.4" height="0.9" fill="#000"/></pattern>
<filter id="spk" x="0" y="0" width="100%" height="100%" color-interpolation-filters="sRGB"><feTurbulence type="fractalNoise" baseFrequency="0.2 0.2" numOctaves="3" seed="11"/><feColorMatrix type="matrix" values="0 0 0 0 1  0 0 0 0 1  0 0 0 0 1  7 0 0 0 -4.45"/></filter>
<filter id="spk2" x="0" y="0" width="100%" height="100%" color-interpolation-filters="sRGB"><feTurbulence type="fractalNoise" baseFrequency="0.33 0.33" numOctaves="2" seed="23"/><feColorMatrix type="matrix" values="0 0 0 0 1  0 0 0 0 1  0 0 0 0 1  0 8 0 0 -5.45"/></filter>
<filter id="mot" x="0" y="0" width="100%" height="100%" color-interpolation-filters="sRGB"><feTurbulence type="fractalNoise" baseFrequency="0.035 0.035" numOctaves="3" seed="5"/><feColorMatrix type="matrix" values="0 0 0 0 0  0 0 0 0 0  0 0 0 0 0  0 0 -2.2 0 1.25"/></filter>
<filter id="wrm" x="0" y="0" width="100%" height="100%" color-interpolation-filters="sRGB"><feTurbulence type="turbulence" baseFrequency="0.16 0.16" numOctaves="1" seed="8"/><feColorMatrix type="matrix" values="0 0 0 0 1  0 0 0 0 1  0 0 0 0 1  -9 0 0 0 1.1"/></filter>
<filter id="grn" x="0" y="0" width="100%" height="100%" color-interpolation-filters="sRGB"><feTurbulence type="fractalNoise" baseFrequency="0.5 0.5" numOctaves="2" seed="2"/><feColorMatrix type="matrix" values="1.6 0 0 0 -0.3  1.6 0 0 0 -0.3  1.6 0 0 0 -0.3  0 0 0 0 0.2"/></filter>
<filter id="bgn" x="0" y="0" width="100%" height="100%" color-interpolation-filters="sRGB"><feTurbulence type="fractalNoise" baseFrequency="0.06 0.06" numOctaves="3" seed="9"/><feColorMatrix type="matrix" values="0 0 0 0 1  0 0 0 0 1  0 0 0 0 1  0.07 0 0 0 -0.028"/></filter>
<filter id="bl6" x="-20%" y="-20%" width="140%" height="140%"><feGaussianBlur stdDeviation="6"/></filter>
<filter id="bl3" x="-20%" y="-20%" width="140%" height="140%"><feGaussianBlur stdDeviation="3"/></filter>
<filter id="bl2" x="-20%" y="-20%" width="140%" height="140%"><feGaussianBlur stdDeviation="1.6"/></filter>
<filter id="bl1" x="-5%" y="-5%" width="110%" height="110%"><feGaussianBlur stdDeviation="0.8"/></filter>
<filter id="bl05" x="-5%" y="-5%" width="110%" height="110%"><feGaussianBlur stdDeviation="0.45"/></filter>
<mask id="spm" maskUnits="userSpaceOnUse" x="930" y="90" width="560" height="510"><rect x="930" y="90" width="560" height="510" fill="#fff"/><path d="M1318.6 100.4L1439.5 201.1L1479.8 276.6L1479.8 372.3L1424.4 452.9L1374.0 402.5L1351.4 332.0L1338.8 286.7L1318.6 241.4L1263.2 160.8Z" fill="#000" fill-opacity="0.85" filter="url(#bl6)"/></mask>
<filter id="spk3" x="0" y="0" width="100%" height="100%" color-interpolation-filters="sRGB"><feTurbulence type="fractalNoise" baseFrequency="0.13 0.13" numOctaves="3" seed="31"/><feColorMatrix type="matrix" values="0 0 0 0 1  0 0 0 0 1  0 0 0 0 1  9 0 0 0 -5.0"/></filter>
<filter id="spk4" x="0" y="0" width="100%" height="100%" color-interpolation-filters="sRGB"><feTurbulence type="fractalNoise" baseFrequency="0.22 0.22" numOctaves="2" seed="77"/><feColorMatrix type="matrix" values="0 0 0 0 1  0 0 0 0 1  0 0 0 0 1  0 9 0 0 -5.2"/></filter>
<mask id="clm" maskUnits="userSpaceOnUse" x="930" y="90" width="560" height="510"><g filter="url(#bl6)" opacity="0.9">
<path d="M976.2 271.6L1036.6 286.7L1092.0 301.8L1137.3 286.7" stroke="#fff" stroke-width="39.1" stroke-linecap="round" stroke-linejoin="round" fill="none"/>
<path d="M1192.7 115.5L1243.1 150.7L1293.5 201.1L1313.6 231.3" stroke="#fff" stroke-width="46.0" stroke-linecap="round" stroke-linejoin="round" fill="none"/>
<path d="M1071.9 337.1L1112.2 352.2L1162.5 362.2L1192.7 377.3" stroke="#fff" stroke-width="39.1" stroke-linecap="round" stroke-linejoin="round" fill="none"/>
<path d="M1238.1 271.6L1223.0 311.9L1212.9 357.2L1202.8 422.7L1185.2 503.2" stroke="#fff" stroke-width="18.4" stroke-linecap="round" stroke-linejoin="round" fill="none"/>
<path d="M1333.7 332.0L1343.8 377.3L1358.9 432.7L1366.5 473.0" stroke="#fff" stroke-width="20.7" stroke-linecap="round" stroke-linejoin="round" fill="none"/>
<path d="M1162.5 546.0L1212.9 541.0L1263.2 536.0L1303.5 528.4" stroke="#fff" stroke-width="25.3" stroke-linecap="round" stroke-linejoin="round" fill="none"/>
<path d="M1001.4 332.0L1041.7 402.5L1092.0 442.8L1132.3 402.5" stroke="#fff" stroke-width="46.0" stroke-linecap="round" stroke-linejoin="round" fill="none"/>
<path d="M1364.0 372.3L1394.2 412.6L1414.3 442.8" stroke="#fff" stroke-width="25.3" stroke-linecap="round" stroke-linejoin="round" fill="none"/>
<path d="M1112.2 201.1L1162.5 216.2" stroke="#fff" stroke-width="34.5" stroke-linecap="round" stroke-linejoin="round" fill="none"/>
</g></mask>
</defs>
<g clip-path="url(#imgc)">
<rect x="825.2" y="70.2" width="799.7" height="599.4" fill="url(#bgg)"/>
<rect x="825.2" y="70.2" width="799.7" height="560" filter="url(#bgn)"/>
<path d="M950.7 286.8C950.8 279.9 949.1 276.0 951.6 270.6C954.1 265.2 960.6 261.4 966.0 254.5C971.4 247.6 978.9 236.8 984.0 229.3C989.1 221.8 992.9 216.4 996.5 209.5C1000.1 202.6 1002.5 194.5 1005.5 187.9C1008.5 181.3 1010.3 175.9 1014.5 169.9C1018.7 163.9 1024.4 157.3 1030.7 151.9C1037.0 146.5 1045.1 141.6 1052.3 137.6C1059.5 133.6 1064.3 130.8 1073.9 127.7C1083.5 124.6 1097.9 121.4 1109.9 118.7C1121.9 116.0 1133.8 113.6 1145.8 111.5C1157.8 109.4 1171.3 107.9 1181.8 106.1C1192.3 104.3 1199.8 102.0 1208.8 100.7C1217.8 99.4 1225.5 98.0 1236.0 98.0C1246.5 98.0 1260.0 98.3 1272.0 100.7C1284.0 103.1 1296.0 107.6 1308.0 112.4C1320.0 117.2 1333.4 123.8 1343.9 129.5C1354.4 135.2 1361.9 140.1 1370.9 146.5C1379.9 152.9 1389.4 160.6 1397.8 168.1C1406.2 175.6 1414.3 182.8 1421.2 191.5C1428.1 200.2 1434.1 211.3 1439.2 220.3C1444.3 229.3 1448.2 237.4 1451.8 245.5C1455.4 253.6 1458.1 260.4 1460.8 268.8C1463.5 277.2 1465.9 286.8 1468.0 295.8C1470.1 304.8 1472.2 313.8 1473.4 322.8C1474.6 331.8 1476.1 339.4 1475.2 349.8C1474.3 360.2 1470.7 374.6 1468.0 385.0C1465.3 395.4 1462.6 402.9 1459.0 411.9C1455.4 420.9 1451.2 430.5 1446.4 438.9C1441.6 447.3 1435.9 454.8 1430.2 462.3C1424.5 469.8 1418.8 476.7 1412.2 483.9C1405.6 491.1 1398.1 498.6 1390.6 505.5C1383.1 512.4 1375.1 519.0 1367.3 525.3C1359.5 531.6 1352.3 537.5 1343.9 543.2C1335.5 548.9 1325.9 554.6 1316.9 559.4C1307.9 564.2 1299.5 568.7 1289.9 572.0C1280.3 575.3 1269.9 577.2 1259.4 579.2C1248.9 581.2 1236.9 582.7 1227.0 583.7C1217.1 584.8 1208.8 586.0 1199.8 585.5C1190.8 585.0 1181.8 583.1 1172.8 581.0C1163.8 578.9 1154.8 575.9 1145.8 572.9C1136.8 569.9 1127.8 566.8 1118.8 563.0C1109.8 559.2 1100.6 554.6 1091.9 550.4C1083.2 546.2 1075.1 542.6 1066.7 537.8C1058.3 533.0 1048.7 527.1 1041.5 521.7C1034.3 516.3 1029.5 511.5 1023.5 505.5C1017.5 499.5 1010.9 492.3 1005.5 485.7C1000.1 479.1 995.7 472.8 991.2 465.9C986.7 459.0 982.5 452.1 978.6 444.3C974.7 436.5 970.8 427.5 967.8 419.1C964.8 410.7 962.5 402.7 960.6 394.0C958.7 385.3 957.3 376.0 956.1 367.0C954.9 358.0 954.2 349.2 953.4 340.0C952.6 330.8 951.7 320.9 951.2 312.0C950.8 303.1 950.6 293.7 950.7 286.8Z" fill="url(#sphg)" filter="url(#bl1)"/>
<g clip-path="url(#sphc)">
<path d="M1318.6 113.0L1364.0 145.7L1431.9 218.7L1456.1 276.6L1458.6 357.2L1414.3 437.8L1369.0 382.4L1343.8 301.8L1318.6 241.4L1258.2 155.8Z" fill="#fff" fill-opacity="0.2" filter="url(#bl1)"/>
<path d="M946.0 271.6L1003.9 191.0L1076.9 168.3L1056.8 251.4L1001.4 291.7L956.0 311.9Z" fill="#000" fill-opacity="0.08" filter="url(#bl6)"/>
<path d="M946.0 352.2L961.1 397.5L1051.7 488.1L1132.3 518.3L1212.9 593.9L1112.2 558.6L1021.5 493.2L961.1 422.7Z" fill="#000" fill-opacity="0.25" filter="url(#bl6)"/>
<path d="M1333.7 110.4L1389.1 150.7L1445.5 221.2L1469.7 276.6L1473.7 357.2L1439.5 447.8L1389.1 505.8" stroke="#000" stroke-opacity="0.4" stroke-width="17" fill="none" filter="url(#bl1)"/>
<path d="M1112.2 140.6L1263.2 135.6L1313.6 241.4L1333.7 291.7L1343.8 372.3L1263.2 503.2L1162.5 452.9L1051.7 362.2L976.2 301.8L1051.7 251.4Z" fill="#fff" fill-opacity="0.04" filter="url(#bl6)"/>
<path d="M1092.0 261.5L1162.5 248.9L1238.1 271.6L1220.4 352.2L1200.3 372.3L1162.5 332.0L1112.2 311.9Z" fill="url(#st1)" opacity="0.34" filter="url(#bl05)"/>
<path d="M1132.3 201.1L1192.7 180.9L1308.6 251.4L1313.6 286.7L1278.3 276.6L1238.1 266.5L1172.6 246.4Z" fill="url(#st2)" opacity="0.3" filter="url(#bl05)"/>
<path d="M1021.5 291.7L1092.0 276.6L1112.2 321.9L1162.5 352.2L1132.3 402.5L1071.9 372.3Z" fill="url(#st3)" opacity="0.24" filter="url(#bl05)"/>
<path d="M1243.1 271.6L1328.7 286.7L1328.7 362.2L1313.6 402.5L1228.0 412.6L1212.9 372.3Z" fill="url(#st4)" opacity="0.16" filter="url(#bl05)"/>
<path d="M1358.9 452.9L1399.2 402.5L1414.3 442.8L1379.1 493.2Z" fill="url(#st2)" opacity="0.16" filter="url(#bl05)"/>
<rect x="940" y="95" width="545" height="500" filter="url(#mot)" opacity="0.3"/>
<rect x="940" y="95" width="545" height="500" filter="url(#grn)"/>
<g opacity="0.3"><path d="M1207.8 452.9L1313.6 442.8L1353.9 493.2L1313.6 533.5L1228.0 543.5L1192.7 503.2Z" filter="url(#wrm)" /></g>
<path d="M1112.2 130.6L1192.7 175.9L1313.6 246.4L1333.7 296.8L1328.7 352.2L1343.8 412.6L1364.0 468.0" stroke="#1a1a1a" stroke-opacity="0.45" stroke-width="3" fill="none" filter="url(#bl2)"/>
<path d="M956.0 286.7L1071.9 332.0" stroke="#222" stroke-opacity="0.35" stroke-width="3" fill="none" filter="url(#bl2)"/>
<path d="M961.1 397.5L1051.7 483.1L1132.3 503.2" stroke="#222" stroke-opacity="0.3" stroke-width="4" fill="none" filter="url(#bl2)"/>
<g mask="url(#spm)">
<rect x="940" y="95" width="545" height="500" filter="url(#spk)" opacity="0.6"/>
<rect x="940" y="95" width="545" height="500" filter="url(#spk2)" opacity="0.5"/>
</g>
<g mask="url(#clm)">
<rect x="940" y="95" width="545" height="500" filter="url(#spk3)" opacity="0.6"/>
<rect x="940" y="95" width="545" height="500" filter="url(#spk4)" opacity="0.5"/>
</g>
<path d="M1331.2 286.7L1333.7 311.9L1327.7 342.1L1333.7 362.2" stroke="#000" stroke-opacity="0.55" stroke-width="2.2" fill="none" filter="url(#bl05)"/>
<path d="M1356.4 427.7L1364.0 452.9L1368.0 473.0" stroke="#000" stroke-opacity="0.5" stroke-width="2.2" fill="none" filter="url(#bl05)"/>
<path d="M950.7 286.8C950.8 279.9 949.1 276.0 951.6 270.6C954.1 265.2 960.6 261.4 966.0 254.5C971.4 247.6 978.9 236.8 984.0 229.3C989.1 221.8 992.9 216.4 996.5 209.5C1000.1 202.6 1002.5 194.5 1005.5 187.9C1008.5 181.3 1010.3 175.9 1014.5 169.9C1018.7 163.9 1024.4 157.3 1030.7 151.9C1037.0 146.5 1045.1 141.6 1052.3 137.6C1059.5 133.6 1064.3 130.8 1073.9 127.7C1083.5 124.6 1097.9 121.4 1109.9 118.7C1121.9 116.0 1133.8 113.6 1145.8 111.5C1157.8 109.4 1171.3 107.9 1181.8 106.1C1192.3 104.3 1199.8 102.0 1208.8 100.7C1217.8 99.4 1225.5 98.0 1236.0 98.0C1246.5 98.0 1260.0 98.3 1272.0 100.7C1284.0 103.1 1296.0 107.6 1308.0 112.4C1320.0 117.2 1333.4 123.8 1343.9 129.5C1354.4 135.2 1361.9 140.1 1370.9 146.5C1379.9 152.9 1389.4 160.6 1397.8 168.1C1406.2 175.6 1414.3 182.8 1421.2 191.5C1428.1 200.2 1434.1 211.3 1439.2 220.3C1444.3 229.3 1448.2 237.4 1451.8 245.5C1455.4 253.6 1458.1 260.4 1460.8 268.8C1463.5 277.2 1465.9 286.8 1468.0 295.8C1470.1 304.8 1472.2 313.8 1473.4 322.8C1474.6 331.8 1476.1 339.4 1475.2 349.8C1474.3 360.2 1470.7 374.6 1468.0 385.0C1465.3 395.4 1462.6 402.9 1459.0 411.9C1455.4 420.9 1451.2 430.5 1446.4 438.9C1441.6 447.3 1435.9 454.8 1430.2 462.3C1424.5 469.8 1418.8 476.7 1412.2 483.9C1405.6 491.1 1398.1 498.6 1390.6 505.5C1383.1 512.4 1375.1 519.0 1367.3 525.3C1359.5 531.6 1352.3 537.5 1343.9 543.2C1335.5 548.9 1325.9 554.6 1316.9 559.4C1307.9 564.2 1299.5 568.7 1289.9 572.0C1280.3 575.3 1269.9 577.2 1259.4 579.2C1248.9 581.2 1236.9 582.7 1227.0 583.7C1217.1 584.8 1208.8 586.0 1199.8 585.5C1190.8 585.0 1181.8 583.1 1172.8 581.0C1163.8 578.9 1154.8 575.9 1145.8 572.9C1136.8 569.9 1127.8 566.8 1118.8 563.0C1109.8 559.2 1100.6 554.6 1091.9 550.4C1083.2 546.2 1075.1 542.6 1066.7 537.8C1058.3 533.0 1048.7 527.1 1041.5 521.7C1034.3 516.3 1029.5 511.5 1023.5 505.5C1017.5 499.5 1010.9 492.3 1005.5 485.7C1000.1 479.1 995.7 472.8 991.2 465.9C986.7 459.0 982.5 452.1 978.6 444.3C974.7 436.5 970.8 427.5 967.8 419.1C964.8 410.7 962.5 402.7 960.6 394.0C958.7 385.3 957.3 376.0 956.1 367.0C954.9 358.0 954.2 349.2 953.4 340.0C952.6 330.8 951.7 320.9 951.2 312.0C950.8 303.1 950.6 293.7 950.7 286.8Z" fill="none" stroke="#000" stroke-opacity="0.42" stroke-width="18" filter="url(#bl3)"/>
</g>
<rect x="825.2" y="629.2" width="799.7" height="41" fill="#0c0c0c"/>
</g>
<ellipse cx="1211.4" cy="335.8" rx="151" ry="89.4" fill="none" stroke="#e6e660" stroke-width="1.2"/>
<text x="1064.9" y="236.8" font-size="14.5" fill="#22cc22" textLength="133.2" lengthAdjust="spacingAndGlyphs" opacity="0.95">Set20-19_body_bulk</text>
<text x="841.6" y="643.1" font-size="15" font-weight="bold" fill="#fff" text-anchor="start" textLength="23.9" lengthAdjust="spacingAndGlyphs">373</text>
<text x="837.3" y="661.8" font-size="15" font-weight="bold" fill="#fff" text-anchor="start" textLength="31.0" lengthAdjust="spacingAndGlyphs">Ch 1</text>
<text x="886.2" y="661.8" font-size="15" font-weight="bold" fill="#fff" text-anchor="start" textLength="77.7" lengthAdjust="spacingAndGlyphs">MAG: 500x</text>
<text x="981.2" y="661.8" font-size="15" font-weight="bold" fill="#fff" text-anchor="start" textLength="67.6" lengthAdjust="spacingAndGlyphs">HV: 15 kV</text>
<text x="1067.5" y="661.8" font-size="15" font-weight="bold" fill="#fff" text-anchor="start" textLength="91.5" lengthAdjust="spacingAndGlyphs">WD: 13,5 mm</text>
<text x="1176.3" y="661.8" font-size="15" font-weight="bold" fill="#fff" text-anchor="start" textLength="81.7" lengthAdjust="spacingAndGlyphs">Px: 0,32 µm</text>
<text x="1500.5" y="643.5" font-size="15" font-weight="bold" fill="#fff" text-anchor="start" textLength="41.7" lengthAdjust="spacingAndGlyphs">50 µm</text>
<path d="M1444.4 651.3H1600.6M1444.4 642.4V660.7M1600.6 642.4V660.7" stroke="#fff" stroke-width="2" fill="none"/>
<rect x="32.1" y="1533.4" width="1601.7" height="31.5" fill="#d9d9d9"/>
<path d="M32.1 1533.4H1633.8V1595.2H32.1ZM32.1 1564.9H1633.8" stroke="#0a0a0a" stroke-width="1.3" fill="none"/>
<text x="72.9" y="1557.0" font-size="21.5" fill="#0a0a0a" stroke="#0a0a0a" stroke-width="0.3" textLength="39.8" lengthAdjust="spacingAndGlyphs">MM</text>
<text x="157.3" y="1557.0" font-size="21.5" fill="#0a0a0a" stroke="#0a0a0a" stroke-width="0.3" textLength="154.4" lengthAdjust="spacingAndGlyphs">Spectrum name</text>
<text x="519.7" y="1557.0" font-size="21.5" fill="#0a0a0a" stroke="#0a0a0a" stroke-width="0.3" textLength="65.5" lengthAdjust="spacingAndGlyphs">setting</text>
<text x="593.0" y="1557.0" font-size="21.5" fill="#0a0a0a" stroke="#0a0a0a" stroke-width="0.3" textLength="13.5" lengthAdjust="spacingAndGlyphs">C</text>
<text x="615.7" y="1557.0" font-size="21.5" fill="#0a0a0a" stroke="#0a0a0a" stroke-width="0.3" textLength="16.0" lengthAdjust="spacingAndGlyphs">O</text>
<text x="642.1" y="1557.0" font-size="21.5" fill="#0a0a0a" stroke="#0a0a0a" stroke-width="0.3" textLength="54.4" lengthAdjust="spacingAndGlyphs">Na2O</text>
<text x="711.1" y="1557.0" font-size="21.5" fill="#0a0a0a" stroke="#0a0a0a" stroke-width="0.3" textLength="45.3" lengthAdjust="spacingAndGlyphs">MgO</text>
<text x="769.5" y="1557.0" font-size="21.5" fill="#0a0a0a" stroke="#0a0a0a" stroke-width="0.3" textLength="58.9" lengthAdjust="spacingAndGlyphs">Al2O3</text>
<text x="842.1" y="1557.0" font-size="21.5" fill="#0a0a0a" stroke="#0a0a0a" stroke-width="0.3" textLength="43.8" lengthAdjust="spacingAndGlyphs">SiO2</text>
<text x="903.5" y="1557.0" font-size="21.5" fill="#0a0a0a" stroke="#0a0a0a" stroke-width="0.3" textLength="50.4" lengthAdjust="spacingAndGlyphs">P2O5</text>
<text x="975.6" y="1557.0" font-size="21.5" fill="#0a0a0a" stroke="#0a0a0a" stroke-width="0.3" textLength="37.7" lengthAdjust="spacingAndGlyphs">SO3</text>
<text x="1029.4" y="1557.0" font-size="21.5" fill="#0a0a0a" stroke="#0a0a0a" stroke-width="0.3" textLength="38.8" lengthAdjust="spacingAndGlyphs">K2O</text>
<text x="1083.8" y="1557.0" font-size="21.5" fill="#0a0a0a" stroke="#0a0a0a" stroke-width="0.3" textLength="38.8" lengthAdjust="spacingAndGlyphs">CaO</text>
<text x="1140.2" y="1557.0" font-size="21.5" fill="#0a0a0a" stroke="#0a0a0a" stroke-width="0.3" textLength="44.3" lengthAdjust="spacingAndGlyphs">TiO2</text>
<text x="1194.1" y="1557.0" font-size="21.5" fill="#0a0a0a" stroke="#0a0a0a" stroke-width="0.3" textLength="59.4" lengthAdjust="spacingAndGlyphs">Cr2O3</text>
<text x="1264.1" y="1557.0" font-size="21.5" fill="#0a0a0a" stroke="#0a0a0a" stroke-width="0.3" textLength="48.4" lengthAdjust="spacingAndGlyphs">MnO</text>
<text x="1334.6" y="1557.0" font-size="21.5" fill="#0a0a0a" stroke="#0a0a0a" stroke-width="0.3" textLength="37.3" lengthAdjust="spacingAndGlyphs">FeO</text>
<text x="1390.5" y="1557.0" font-size="21.5" fill="#0a0a0a" stroke="#0a0a0a" stroke-width="0.3" textLength="24.2" lengthAdjust="spacingAndGlyphs">Co</text>
<text x="1442.4" y="1557.0" font-size="21.5" fill="#0a0a0a" stroke="#0a0a0a" stroke-width="0.3" textLength="18.6" lengthAdjust="spacingAndGlyphs">Ni</text>
<text x="1493.8" y="1557.0" font-size="21.5" fill="#0a0a0a" stroke="#0a0a0a" stroke-width="0.3" textLength="24.1" lengthAdjust="spacingAndGlyphs">Cu</text>
<text x="1536.6" y="1557.0" font-size="21.5" fill="#0a0a0a" stroke="#0a0a0a" stroke-width="0.3" textLength="21.6" lengthAdjust="spacingAndGlyphs">Zn</text>
<text x="1580.9" y="1557.0" font-size="21.5" fill="#0a0a0a" stroke="#0a0a0a" stroke-width="0.3" textLength="41.3" lengthAdjust="spacingAndGlyphs">Sum</text>
<text x="36.4" y="1587.5" font-size="21.5" fill="#0a0a0a" stroke="#0a0a0a" stroke-width="0.3" textLength="104.0" lengthAdjust="spacingAndGlyphs">THMM384</text>
<text x="157.3" y="1587.5" font-size="21.5" fill="#0a0a0a" stroke="#0a0a0a" stroke-width="0.3" textLength="202.2" lengthAdjust="spacingAndGlyphs">Set20-19_body_bulk</text>
<text x="552.2" y="1587.5" font-size="21.5" fill="#0a0a0a" stroke="#0a0a0a" stroke-width="0.3" text-anchor="middle">1</text>
<text x="598.8" y="1587.5" font-size="21.5" fill="#0a0a0a" stroke="#0a0a0a" stroke-width="0.3" text-anchor="middle">0</text>
<text x="624.0" y="1587.5" font-size="21.5" fill="#0a0a0a" stroke="#0a0a0a" stroke-width="0.3" text-anchor="middle">0</text>
<text x="714.1" y="1587.5" font-size="21.5" fill="#0a0a0a" stroke="#0a0a0a" stroke-width="0.3" textLength="40.3" lengthAdjust="spacingAndGlyphs">26,9</text>
<text x="784.6" y="1587.5" font-size="21.5" fill="#0a0a0a" stroke="#0a0a0a" stroke-width="0.3" textLength="28.7" lengthAdjust="spacingAndGlyphs">2,0</text>
<text x="843.1" y="1587.5" font-size="21.5" fill="#0a0a0a" stroke="#0a0a0a" stroke-width="0.3" textLength="41.8" lengthAdjust="spacingAndGlyphs">37,9</text>
<text x="1088.4" y="1587.5" font-size="21.5" fill="#0a0a0a" stroke="#0a0a0a" stroke-width="0.3" textLength="29.2" lengthAdjust="spacingAndGlyphs">4,0</text>
<text x="1208.2" y="1587.5" font-size="21.5" fill="#0a0a0a" stroke="#0a0a0a" stroke-width="0.3" textLength="29.2" lengthAdjust="spacingAndGlyphs">0,1</text>
<text x="1333.1" y="1587.5" font-size="21.5" fill="#0a0a0a" stroke="#0a0a0a" stroke-width="0.3" textLength="40.3" lengthAdjust="spacingAndGlyphs">29,0</text>
<text x="1437.4" y="1587.5" font-size="21.5" fill="#0a0a0a" stroke="#0a0a0a" stroke-width="0.3" textLength="29.2" lengthAdjust="spacingAndGlyphs">0,0</text>
<text x="1574.8" y="1587.5" font-size="21.5" fill="#0a0a0a" stroke="#0a0a0a" stroke-width="0.3" textLength="52.9" lengthAdjust="spacingAndGlyphs">100,0</text>
<text x="36.4" y="1618.6" font-size="18.5" fill="#0a0a0a" stroke="#0a0a0a" stroke-width="0.2" textLength="1164" lengthAdjust="spacingAndGlyphs">setting 1: preset elements: C(not unfolding),O,Mg,Al,Si,Ca,Cr,Fe,Ni; optional elements: Na,P,S,K,Ti,Mn,Co,Cu,Zn (values normalized to 100%)</text></svg></body></html>
